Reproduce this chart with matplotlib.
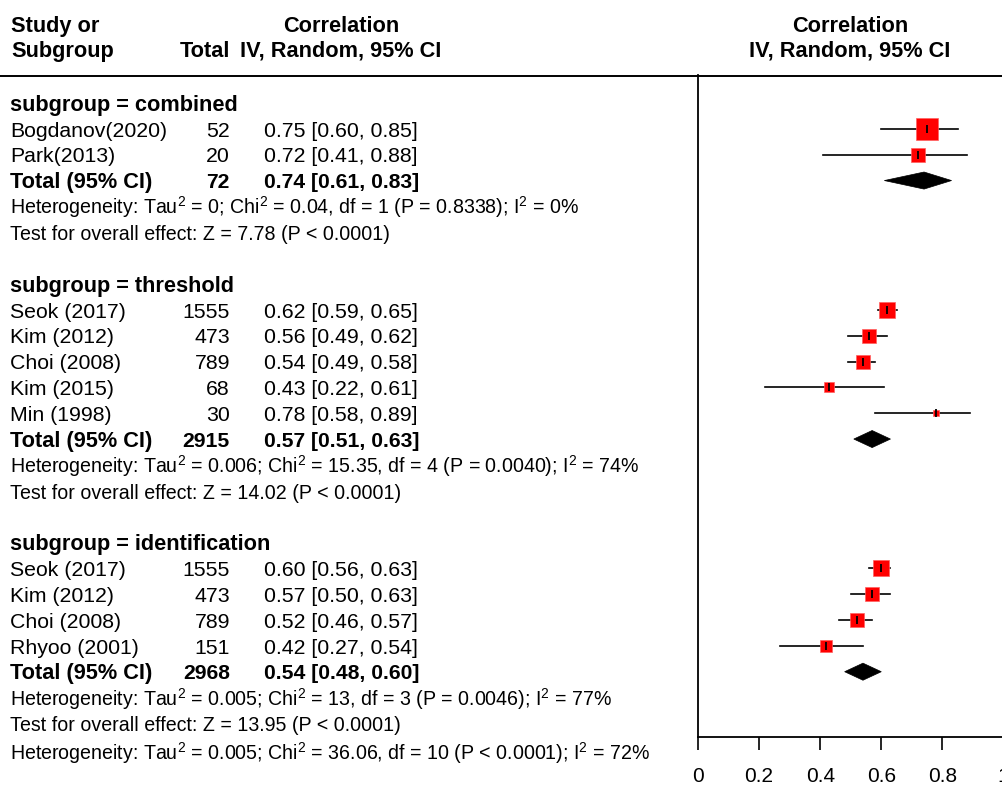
import numpy as np
import matplotlib
matplotlib.use("Agg")
import matplotlib.pyplot as plt
from matplotlib.patches import Polygon

plt.rcParams['font.family'] = ['Liberation Sans', 'DejaVu Sans']
plt.rcParams['mathtext.fontset'] = 'custom'
plt.rcParams['mathtext.rm'] = 'Liberation Sans'
plt.rcParams['mathtext.it'] = 'Liberation Sans:italic'
plt.rcParams['mathtext.bf'] = 'Liberation Sans:bold'

# ---------------- data ----------------
group_labels = ["combined", "threshold", "identification"]

combined_names = ["Bogdanov(2020)", "Park(2013)"]
combined_n = [52, 20]
combined_r = [0.75, 0.72]
combined_lo = [0.60, 0.41]
combined_hi = [0.85, 0.88]
combined_w = [73, 27]

threshold_names = ["Seok (2017)", "Kim (2012)", "Choi (2008)", "Kim (2015)", "Min (1998)"]
threshold_n = [1555, 473, 789, 68, 30]
threshold_r = [0.62, 0.56, 0.54, 0.43, 0.78]
threshold_lo = [0.59, 0.49, 0.49, 0.22, 0.58]
threshold_hi = [0.65, 0.62, 0.58, 0.61, 0.89]
threshold_w = [34, 27, 28, 14, 7]

identification_names = ["Seok (2017)", "Kim (2012)", "Choi (2008)", "Rhyoo (2001)"]
identification_n = [1555, 473, 789, 151]
identification_r = [0.60, 0.57, 0.52, 0.42]
identification_lo = [0.56, 0.50, 0.46, 0.27]
identification_hi = [0.63, 0.63, 0.57, 0.54]
identification_w = [34, 27, 33, 22]

total_n = [72, 2915, 2968]
total_r = [0.74, 0.57, 0.54]
total_lo = [0.61, 0.51, 0.48]
total_hi = [0.83, 0.63, 0.60]

het_tau2 = ["0", "0.006", "0.005"]
het_chi2 = ["0.04", "15.35", "13"]
het_df = [1, 4, 3]
het_p = ["= 0.8338", "= 0.0040", "= 0.0046"]
het_i2 = [0, 74, 77]
overall_z = ["7.78", "14.02", "13.95"]
overall_p = ["< 0.0001", "< 0.0001", "< 0.0001"]

all_tau2 = "0.005"
all_chi2 = "36.06"
all_df = 10
all_p = "< 0.0001"
all_i2 = 72

xticks = [0, 0.2, 0.4, 0.6, 0.8, 1]
xtick_labels = ["0", "0.2", "0.4", "0.6", "0.8", "1"]

groups = [
    (combined_names, combined_n, combined_r, combined_lo, combined_hi, combined_w),
    (threshold_names, threshold_n, threshold_r, threshold_lo, threshold_hi, threshold_w),
    (identification_names, identification_n, identification_r, identification_lo, identification_hi, identification_w),
]

# ---------------- layout ----------------
W, H = 1003, 785
ROW0, ROWH = 103.0, 25.85
def k_of(px):
    return (px - ROW0) / ROWH

fig = plt.figure(figsize=(W / 100, H / 100), dpi=100)
tax = fig.add_axes([0, 0, 1, 1])
tax.set_xlim(0, W)
tax.set_ylim(k_of(H), k_of(0))
tax.axis('off')

ax_left, ax_right = 698.0, 1003.5
ax_top, ax_bot = 75.0, 737.0
fax = fig.add_axes([ax_left / W, 1 - ax_bot / H, (ax_right - ax_left) / W, (ax_bot - ax_top) / H])
fax.set_xlim(0, 1)
fax.set_ylim(k_of(ax_bot), k_of(ax_top))
fax.patch.set_visible(False)
for s in ['top', 'right']:
    fax.spines[s].set_visible(False)
fax.spines['left'].set_linewidth(1.3)
fax.spines['bottom'].set_linewidth(1.3)
fax.set_yticks([])
fax.set_xticks(xticks)
fax.set_xticklabels(xtick_labels)
fax.tick_params(axis='x', length=9.4, width=1.2, pad=12.5, labelsize=15.0)

FS = 15.3
FS_B = 15.7
FS_BN = 15.2
FS_H = 14.1
BOFF = 0.30  # baseline offset in rows
X_NAME, X_N, X_CI = 10, 230, 264

# header
tax.text(11, k_of(32), "Study or", fontsize=FS_B, fontweight='bold', va='baseline', ha='left')
tax.text(11, k_of(57), "Subgroup", fontsize=FS_B, fontweight='bold', va='baseline', ha='left')
tax.text(341, k_of(32), "Correlation", fontsize=FS_B, fontweight='bold', va='baseline', ha='center')
tax.text(X_N, k_of(57), "Total", fontsize=FS_B, fontweight='bold', va='baseline', ha='right')
tax.text(341, k_of(57), "IV, Random, 95% CI", fontsize=FS_B, fontweight='bold', va='baseline', ha='center')
tax.text(850, k_of(32), "Correlation", fontsize=FS_B, fontweight='bold', va='baseline', ha='center')
tax.text(850, k_of(57), "IV, Random, 95% CI", fontsize=FS_B, fontweight='bold', va='baseline', ha='center')
tax.plot([0, W], [k_of(75.5), k_of(75.5)], color='black', lw=1.4, solid_capstyle='butt')

def fmt_ci(r, lo, hi):
    return f"{r:.2f} [{lo:.2f}, {hi:.2f}]"

SQ_C = 2.575  # px per sqrt(weight)
row = 0
for gi, (names, ns, rs, los, his, ws) in enumerate(groups):
    tax.text(X_NAME, row + BOFF, f"subgroup = {group_labels[gi]}", fontsize=FS_B, fontweight='bold', va='baseline')
    row += 1
    for name, n, r, lo, hi, w in zip(names, ns, rs, los, his, ws):
        tax.text(X_NAME, row + BOFF, name, fontsize=FS, va='baseline')
        tax.text(X_N, row + BOFF, str(n), fontsize=FS, va='baseline', ha='right')
        tax.text(X_CI, row + BOFF, fmt_ci(r, lo, hi), fontsize=FS, va='baseline')
        fax.plot([lo, hi], [row, row], color='black', lw=1.2, zorder=2, clip_on=False)
        side_pt = SQ_C * np.sqrt(w) * 0.72
        fax.plot([r], [row], marker='s', markersize=side_pt, color='red', markeredgecolor='#ff6060',
                 markeredgewidth=0.5, zorder=3, clip_on=False)
        fax.plot([r], [row], marker='|', markersize=5.2, color='black', markeredgewidth=1.3, zorder=4, clip_on=False)
        row += 1
    # total
    tax.text(X_NAME, row + BOFF, "Total (95% CI)", fontsize=FS_B, fontweight='bold', va='baseline')
    tax.text(X_N, row + BOFF, str(total_n[gi]), fontsize=FS_BN, fontweight='bold', va='baseline', ha='right')
    tax.text(X_CI, row + BOFF, fmt_ci(total_r[gi], total_lo[gi], total_hi[gi]), fontsize=FS_BN,
             fontweight='bold', va='baseline')
    h = 0.33
    dia = Polygon([(total_lo[gi], row), (total_r[gi], row - h), (total_hi[gi], row), (total_r[gi], row + h)],
                  closed=True, facecolor='black', edgecolor='black', lw=0.5, zorder=3)
    fax.add_patch(dia)
    row += 1
    het = (f"Heterogeneity: Tau$^2$ = {het_tau2[gi]}; Chi$^2$ = {het_chi2[gi]}, df = {het_df[gi]} "
           f"(P {het_p[gi]}); I$^2$ = {het_i2[gi]}%")
    tax.text(X_NAME, row + BOFF, het, fontsize=FS_H, va='baseline')
    row += 1
    tax.text(X_NAME, row + BOFF, f"Test for overall effect: Z = {overall_z[gi]} (P {overall_p[gi]})",
             fontsize=FS_H, va='baseline')
    row += 2

overall = (f"Heterogeneity: Tau$^2$ = {all_tau2}; Chi$^2$ = {all_chi2}, df = {all_df} "
           f"(P {all_p}); I$^2$ = {all_i2}%")
tax.text(X_NAME, 25.1 + BOFF, overall, fontsize=FS_H, va='baseline')

fig.savefig("out.png", dpi=100)
